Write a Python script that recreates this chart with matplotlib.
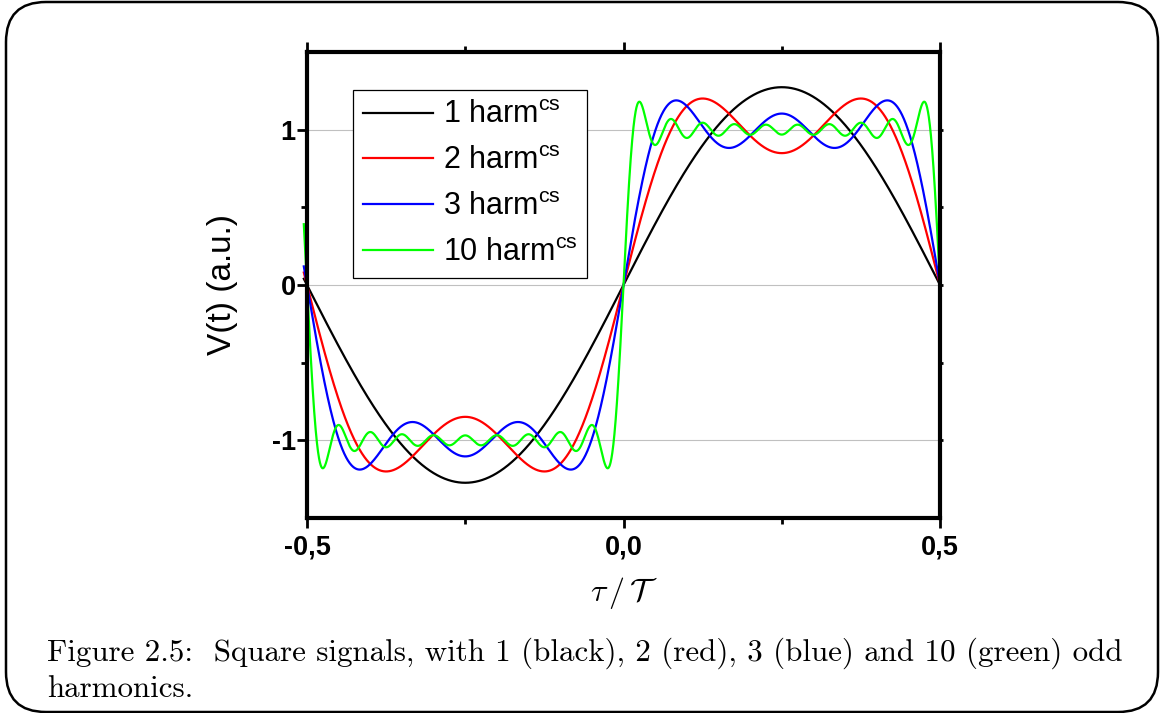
import numpy as np
import matplotlib
matplotlib.use('Agg')
import matplotlib.pyplot as plt
from matplotlib.patches import FancyBboxPatch
from matplotlib.transforms import IdentityTransform
from matplotlib.ticker import FixedLocator

# Number of odd harmonics summed in each curve
harmonics = [1, 2, 3, 10]
colors = ['#000000', '#ff0000', '#0000ff', '#00ff00']
labels = ['1 harm$^{\\mathrm{cs}}$', '2 harm$^{\\mathrm{cs}}$',
          '3 harm$^{\\mathrm{cs}}$', '10 harm$^{\\mathrm{cs}}$']

x_ticks = [-0.5, 0.0, 0.5]
x_ticklabels = ['-0,5', '0,0', '0,5']
y_ticks = [-1, 0, 1]
y_ticklabels = ['-1', '0', '1']

caption_1 = 'Figure 2.5:  Square signals, with 1 (black), 2 (red), 3 (blue) and 10 (green) odd'
caption_2 = 'harmonics.'

plt.rcParams['font.family'] = ['Liberation Sans', 'DejaVu Sans']
plt.rcParams['mathtext.fontset'] = 'custom'
plt.rcParams['mathtext.rm'] = 'Liberation Sans'


# Fourier sum of a square wave with n odd harmonics
def square_sum(tau, n):
    v = np.zeros_like(tau)
    for k in range(1, n + 1):
        m = 2 * k - 1
        v += 4 / np.pi * np.sin(2 * np.pi * m * tau) / m
    return v


tau = np.linspace(-0.505, 0.5, 3000)

fig = plt.figure(figsize=(11.65, 7.13), dpi=100)
ax = fig.add_axes([0.2635, 0.2735, 0.5434, 0.6536])

for n, c, lab in zip(harmonics, colors, labels):
    ax.plot(tau, square_sum(tau, n), color=c, lw=1.6, label=lab, clip_on=False)

ax.set_xlim(-0.5, 0.5)
ax.set_ylim(-1.5, 1.5)

for yv in y_ticks:
    ax.axhline(yv, color='#c0c0c0', lw=0.8, zorder=0)

ax.set_xticks(x_ticks)
ax.set_xticklabels(x_ticklabels)
ax.set_yticks(y_ticks)
ax.set_yticklabels(y_ticklabels)
ax.xaxis.set_minor_locator(FixedLocator([-0.25, 0.25]))
ax.yaxis.set_minor_locator(FixedLocator([-0.5, 0.5]))

ax.tick_params(which='major', direction='out', length=7, width=2,
               top=True, right=True, labelsize=19.5)
ax.tick_params(which='minor', direction='out', length=4, width=2,
               top=True, right=True)
ax.tick_params(axis='y', which='major', pad=1)
ax.tick_params(axis='x', which='major', pad=5)
for t in ax.get_xticklabels() + ax.get_yticklabels():
    t.set_fontweight('bold')
# right side ticks are only small stubs
for t in ax.yaxis.get_major_ticks() + ax.yaxis.get_minor_ticks():
    t.tick2line.set_markersize(2)

for s in ax.spines.values():
    s.set_linewidth(3)

ax.set_ylabel('V(t) (a.u.)', fontsize=24, labelpad=24)
ax.set_xlabel(r'$\tau\,/\,\mathcal{T}$', fontsize=23, labelpad=10, math_fontfamily='cm')

leg = ax.legend(loc='upper left', bbox_to_anchor=(0.0727, 0.918), borderaxespad=0,
                fontsize=22, fancybox=False, edgecolor='black', framealpha=1,
                handlelength=2.3, handletextpad=0.3, labelspacing=0.52, borderpad=0.33)
leg.get_frame().set_linewidth(0.9)

fig.text(47 / 1165, 52 / 713, caption_1, family='cmr10', fontsize=22.3, va='baseline')
fig.text(47 / 1165, 16 / 713, caption_2, family='cmr10', fontsize=22.3, va='baseline')

border = FancyBboxPatch((6, 1), 1152, 710, boxstyle='round,pad=0,rounding_size=40',
                        transform=IdentityTransform(), fill=False, edgecolor='black', lw=1.8)
fig.patches.append(border)

fig.savefig('out.png', dpi=100)
